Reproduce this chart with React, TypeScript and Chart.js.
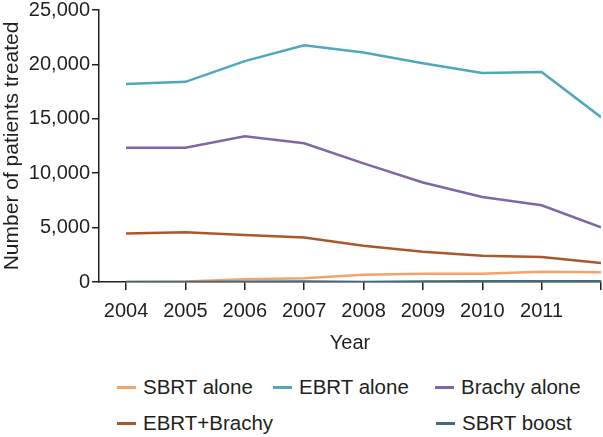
import React, { useEffect, useRef } from "react";
import { Chart, registerables } from "chart.js";

Chart.register(...registerables);

const years = [2004, 2005, 2006, 2007, 2008, 2009, 2010, 2011, 2012];
const sbrtAlone = [0, 50, 250, 350, 670, 760, 760, 950, 890];
const ebrtAlone = [18200, 18400, 20300, 21750, 21100, 20100, 19200, 19300, 15150];
const brachyAlone = [12350, 12350, 13400, 12750, 10900, 9150, 7820, 7050, 5030];
const ebrtBrachy = [4450, 4570, 4320, 4080, 3340, 2790, 2420, 2300, 1750];
const sbrtBoost = [0, 0, 30, 50, 0, 50, 60, 70, 60];
const yTicks = [0, 5000, 10000, 15000, 20000, 25000];
const xLabelYears = [2004, 2005, 2006, 2007, 2008, 2009, 2010, 2011];

const seriesNames = ["SBRT alone", "EBRT alone", "Brachy alone", "EBRT+Brachy", "SBRT boost"];
const seriesColors = ["#f3a36b", "#4fa7bd", "#7c68a6", "#a9582e", "#3f6b7c"];

const FONT = "'Liberation Sans', Arial, sans-serif";
const TEXT = "#231f20";

export default function App() {
  const ref = useRef<HTMLCanvasElement | null>(null);
  useEffect(() => {
    if (!ref.current) return;
    const data = [sbrtAlone, ebrtAlone, brachyAlone, ebrtBrachy, sbrtBoost];
    const order = [4, 0, 3, 2, 1];
    const chart = new Chart(ref.current, {
      type: "line",
      data: {
        datasets: order.map((i) => ({
          label: seriesNames[i],
          data: years.map((yr, k) => ({ x: yr, y: data[i][k] })),
          borderColor: seriesColors[i],
          backgroundColor: seriesColors[i],
          borderWidth: 2.5,
          pointRadius: 0,
          tension: 0,
          fill: false,
        })),
      },
      options: {
        animation: false,
        responsive: false,
        maintainAspectRatio: false,
        layout: { padding: { top: 10, right: 2, left: 0, bottom: 0 } },
        plugins: { legend: { display: false }, tooltip: { enabled: false } },
        scales: {
          x: {
            type: "linear",
            min: 2003.545,
            max: 2012,
            afterBuildTicks: (s: any) => {
              s.ticks = years.map((v) => ({ value: v }));
            },
            grid: {
              display: true,
              drawOnChartArea: false,
              drawTicks: true,
              tickLength: 8,
              color: TEXT,
              lineWidth: 1.5,
            },
            border: { display: true, color: TEXT, width: 1.5 },
            ticks: {
              color: TEXT,
              font: { family: FONT, size: 20 },
              padding: 9,
              maxRotation: 0,
              autoSkip: false,
              callback: (v: any) => (xLabelYears.includes(Number(v)) ? String(v) : ""),
            },
            title: {
              display: true,
              text: "Year",
              color: TEXT,
              font: { family: FONT, size: 20 },
              padding: { top: 0, bottom: 5 },
            },
            afterFit: (s: any) => {
              s.height = 78;
              s.paddingLeft = 0;
              s.paddingRight = 0;
            },
          },
          y: {
            min: 0,
            max: 25000,
            afterBuildTicks: (s: any) => {
              s.ticks = yTicks.map((v) => ({ value: v }));
            },
            grid: {
              display: true,
              drawOnChartArea: false,
              drawTicks: true,
              tickLength: 7,
              color: TEXT,
              lineWidth: 1.5,
            },
            border: { display: true, color: TEXT, width: 1.5 },
            ticks: {
              color: TEXT,
              font: { family: FONT, size: 20 },
              padding: 2,
              callback: (v: any) => Number(v).toLocaleString("en-US"),
            },
            title: {
              display: true,
              text: "Number of patients treated",
              color: TEXT,
              font: { family: FONT, size: 21 },
              padding: { top: 0, bottom: 0 },
            },
            afterFit: (s: any) => {
              s.width = 99;
              s.paddingTop = 0;
              s.paddingBottom = 0;
            },
          },
        },
      },
    });
    return () => chart.destroy();
  }, []);

  const legendItem = (i: number, left: number, top: number) => (
    <div
      key={i}
      style={{
        position: "absolute",
        left,
        top,
        display: "flex",
        alignItems: "center",
        height: 24,
        fontFamily: FONT,
        fontSize: 20.5,
        color: TEXT,
        whiteSpace: "nowrap",
      }}
    >
      <span style={{ display: "inline-block", width: 19, height: 3, background: seriesColors[i], marginRight: 7 }} />
      <span>{seriesNames[i]}</span>
    </div>
  );

  return (
    <div style={{ position: "absolute", left: 0, top: 0, width: 603, height: 437, background: "#fff" }}>
      <canvas ref={ref} width={603} height={360} style={{ position: "absolute", left: 0, top: 0 }} />
      {legendItem(0, 117, 375)}
      {legendItem(1, 273, 375)}
      {legendItem(2, 435, 375)}
      {legendItem(3, 117, 411)}
      {legendItem(4, 436, 411)}
    </div>
  );
}
